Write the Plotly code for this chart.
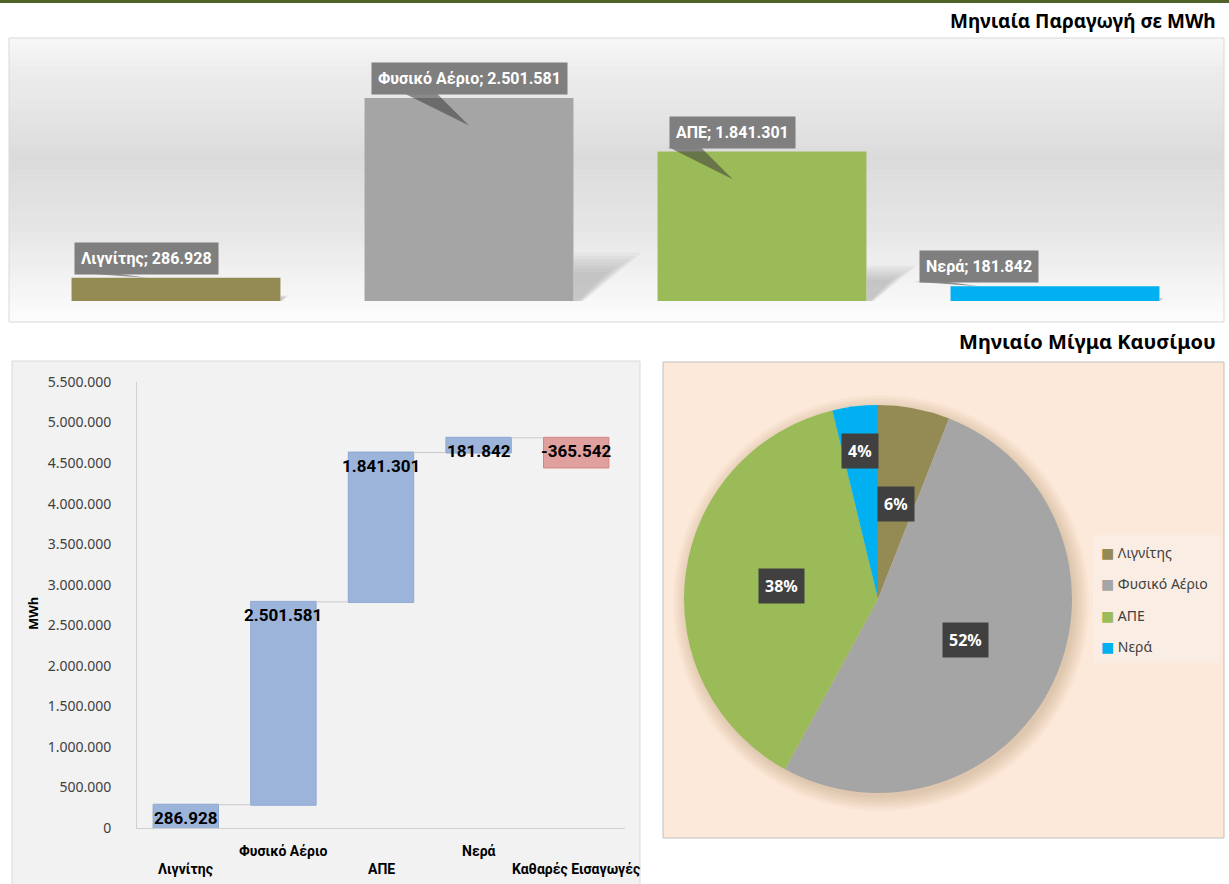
import math
import plotly.graph_objects as go

# ---------------- data ----------------
top_categories = ["Λιγνίτης", "Φυσικό Αέριο", "ΑΠΕ", "Νερά"]
top_values = [286928, 2501581, 1841301, 181842]
top_colors = ["#948A54", "#A5A5A5", "#9BBB59", "#00B0F0"]

wf_categories = ["Λιγνίτης", "Φυσικό Αέριο", "ΑΠΕ", "Νερά", "Καθαρές Εισαγωγές"]
wf_values = [286928, 2501581, 1841301, 181842, -365542]
wf_ticks = [0, 500000, 1000000, 1500000, 2000000, 2500000, 3000000,
            3500000, 4000000, 4500000, 5000000, 5500000]

pie_labels = ["Λιγνίτης", "Φυσικό Αέριο", "ΑΠΕ", "Νερά"]
pie_values = [286928, 2501581, 1841301, 181842]
pie_colors = ["#948A54", "#A5A5A5", "#9BBB59", "#00B0F0"]

title_top = "Μηνιαία Παραγωγή σε MWh"
title_mix = "Μηνιαίο Μίγμα Καυσίμου"
y_title = "MWh"

# ---------------- helpers ----------------
W, H = 1229, 884
def px(x):
    return x / W
def py(y):
    return 1 - y / H
def gr(v):
    return f"{v:,}".replace(",", ".")

REG = "Noto Sans, Open Sans, DejaVu Sans, sans-serif"
BOLD = "Liberation Sans Narrow, Roboto, Noto Sans, sans-serif"

shapes = []
annotations = []

# top dark green rule
shapes.append(dict(type="rect", xref="paper", yref="paper", x0=0, x1=1,
                   y0=py(3), y1=1, fillcolor="#4F6228", line_width=0, layer="below"))

# top panel gradient background
stops = [(38, 248), (70, 237), (160, 219), (230, 230), (322, 253)]
nstrip = 60
for i in range(nstrip):
    y0 = 38 + (322 - 38) * i / nstrip
    y1 = 38 + (322 - 38) * (i + 1) / nstrip
    ym = (y0 + y1) / 2
    for (a, ca), (b, cb) in zip(stops[:-1], stops[1:]):
        if a <= ym <= b:
            c = int(round(ca + (cb - ca) * (ym - a) / (b - a)))
            break
    shapes.append(dict(type="rect", xref="paper", yref="paper", x0=px(9), x1=px(1224),
                       y0=py(min(y1 + 0.6, 322)), y1=py(y0), fillcolor=f"rgb({c},{c},{c})",
                       line_width=0, layer="below"))
shapes.append(dict(type="rect", xref="paper", yref="paper", x0=px(9), x1=px(1224),
                   y0=py(322), y1=py(38), line=dict(color="#D9D9D9", width=1),
                   fillcolor="rgba(0,0,0,0)", layer="below"))

# waterfall panel
shapes.append(dict(type="rect", xref="paper", yref="paper", x0=px(12), x1=px(640),
                   y0=py(886), y1=py(361), fillcolor="#F2F2F2",
                   line=dict(color="#D9D9D9", width=1), layer="below"))
# pie panel
shapes.append(dict(type="rect", xref="paper", yref="paper", x0=px(663), x1=px(1224),
                   y0=py(838), y1=py(362), fillcolor="#FDE9D9",
                   line=dict(color="#BFBFBF", width=1), layer="below"))

fig = go.Figure()

# ---------------- top bar chart ----------------
ymax_top = 2501581 * 256 / 203
ppu = 256 / ymax_top   # pixels per value unit
upx = 1 / 293.0         # x units per pixel
half_w = 0.713 / 2
# soft perspective shadows behind the bars
for i, v in enumerate(top_values):
    h = v * ppu
    s = 0.23 * h
    w = 0.32 * h
    R = i + half_w
    for k in range(7):
        sk = s * (1.04 - 0.07 * k)
        wk = w * (1.06 - 0.09 * k)
        shapes.append(dict(type="path", xref="x", yref="y",
                           path=(f"M {R} 0 L {R} {sk / ppu} L {R + wk * upx} {sk / ppu} "
                                 f"L {R + 0.15 * wk * upx} 0 Z"),
                           fillcolor="rgba(110,110,110,0.055)", line_width=0, layer="below"))
fig.add_trace(go.Bar(
    x=list(range(len(top_categories))), y=top_values,
    marker=dict(color=top_colors, line_width=0), width=0.713,
    xaxis="x", yaxis="y", showlegend=False,
    hovertext=top_categories, hoverinfo="text+y",
))

label_dx = [-0.1, 0.0, -0.1, -0.26]
for i, (cat, v) in enumerate(zip(top_categories, top_values)):
    bx = i + label_dx[i]
    by = v + 240000
    tip_y = v - 340000 if v > 1000000 else v
    base_y = by - 15 / ppu
    shapes.append(dict(type="path", xref="x", yref="y",
                       path=f"M {bx-0.22} {base_y} L {bx-0.11} {base_y} L {bx} {tip_y} Z",
                       fillcolor="rgba(60,60,60,0.55)", line_width=0, layer="above"))
    annotations.append(dict(xref="x", yref="y", x=bx, y=by, text=f"<b>{cat}; {gr(v)}</b>",
                            showarrow=False, bgcolor="#7F7F7F", borderpad=6,
                            font=dict(family=BOLD, size=16, color="white"),
                            xanchor="center", yanchor="middle"))

# ---------------- waterfall ----------------
fig.add_trace(go.Waterfall(
    x=wf_categories, y=wf_values, measure=["relative"] * len(wf_values),
    xaxis="x2", yaxis="y2", width=0.67, showlegend=False,
    increasing=dict(marker=dict(color="#9CB4DA", line=dict(color="#8EA8D4", width=1))),
    decreasing=dict(marker=dict(color="#E0A09E", line=dict(color="#D08684", width=1))),
    connector=dict(line=dict(color="#C8C8C8", width=1)),
    textposition="none",
))
cum = 0
for cat, v in zip(wf_categories, wf_values):
    top = max(cum, cum + v)
    cum += v
    annotations.append(dict(xref="x2", yref="y2", x=cat, y=top, text=f"<b>{gr(v)}</b>",
                            showarrow=False, xanchor="center", yanchor="top", yshift=-1,
                            font=dict(family=BOLD, size=17, color="black")))
for i, cat in enumerate(wf_categories):
    ypix = 851 if i % 2 == 1 else 869
    annotations.append(dict(xref="x2", yref="paper", x=cat, y=py(ypix), text=f"<b>{cat}</b>",
                            showarrow=False, xanchor="center", yanchor="middle",
                            font=dict(family=BOLD, size=14, color="black")))
annotations.append(dict(xref="paper", yref="paper", x=px(33), y=py(614), text=f"<b>{y_title}</b>",
                        textangle=-90, showarrow=False, xanchor="center", yanchor="middle",
                        font=dict(family=REG, size=13, color="black")))

# ---------------- pie ----------------
cx, cy, r = 878, 599, 194
# soft shadow
for k in range(8):
    rr = r + 14 - k * 2
    shapes.append(dict(type="circle", xref="paper", yref="paper",
                       x0=px(cx + 3 - rr), x1=px(cx + 3 + rr),
                       y0=py(cy + 4 + rr), y1=py(cy + 4 - rr),
                       fillcolor="rgba(140,100,70,0.035)", line_width=0, layer="below"))
fig.add_trace(go.Pie(
    labels=pie_labels, values=pie_values, sort=False, direction="clockwise",
    rotation=0, marker=dict(colors=pie_colors, line=dict(width=0)),
    textinfo="none", showlegend=False, automargin=False,
    domain=dict(x=[px(cx - r), px(cx + r)], y=[py(cy + r), py(cy - r)]),
))
total = sum(pie_values)
label_r = [0.5, 0.5, 0.5, 0.77]
acc = 0
for i, v in enumerate(pie_values):
    frac = (acc + v / 2) / total
    acc += v
    th = 2 * math.pi * frac
    lx = cx + label_r[i] * r * math.sin(th)
    ly = cy - label_r[i] * r * math.cos(th)
    annotations.append(dict(xref="paper", yref="paper", x=px(lx), y=py(ly),
                            text=f"<b>{round(100 * v / total)}%</b>", showarrow=False,
                            xanchor="center", yanchor="middle",
                            bgcolor="#404040", borderpad=6,
                            font=dict(family=REG, size=16, color="white")))

# manual legend
shapes.append(dict(type="rect", xref="paper", yref="paper", x0=px(1093), x1=px(1220),
                   y0=py(663), y1=py(535), fillcolor="#FAEDE4", line_width=0, layer="below"))
for i, (lab, col) in enumerate(zip(pie_labels, pie_colors)):
    yy = 552 + i * 31.5
    annotations.append(dict(xref="paper", yref="paper", x=px(1099), y=py(yy),
                            xanchor="left", yanchor="middle", showarrow=False,
                            text=f'<span style="color:{col}">■</span> {lab}',
                            font=dict(family=REG, size=14, color="#404040")))

# titles
annotations.append(dict(xref="paper", yref="paper", x=px(1218), y=py(21), xanchor="right",
                        yanchor="middle", showarrow=False, text=f"<b>{title_top}</b>",
                        font=dict(family=REG, size=19, color="black")))
annotations.append(dict(xref="paper", yref="paper", x=px(1218), y=py(342), xanchor="right",
                        yanchor="middle", showarrow=False, text=f"<b>{title_mix}</b>",
                        font=dict(family=REG, size=20, color="black")))

fig.update_layout(
    width=W, height=H, margin=dict(l=0, r=0, t=0, b=0, autoexpand=False),
    paper_bgcolor="white", plot_bgcolor="rgba(0,0,0,0)",
    separators=",.",
    xaxis=dict(domain=[px(29.5), px(1201.5)], range=[-0.5, 3.5], visible=False, automargin=False),
    yaxis=dict(domain=[py(301), py(301 - 256)], range=[0, ymax_top], visible=False, automargin=False),
    xaxis2=dict(domain=[px(137), px(625)], anchor="y2", range=[-0.5, 4.5],
                showline=True, linecolor="#D0D0D0",
                showticklabels=False, ticks="", showgrid=False, zeroline=False, automargin=False),
    yaxis2=dict(domain=[py(828), py(382)], anchor="x2", range=[0, 5500000],
                tickvals=wf_ticks, ticktext=[gr(t) for t in wf_ticks],
                showline=True, linecolor="#D0D0D0", showgrid=False, zeroline=False,
                ticks="outside", ticklen=22, tickcolor="rgba(0,0,0,0)", automargin=False,
                tickfont=dict(family=REG, size=14, color="#404040")),
    shapes=shapes, annotations=annotations,
)

fig.write_html(
    "out.html",
    config={"displayModeBar": False},
    post_script="document.body.style.margin='0';document.body.style.padding='0';"
                "document.body.style.overflow='hidden';",
)
